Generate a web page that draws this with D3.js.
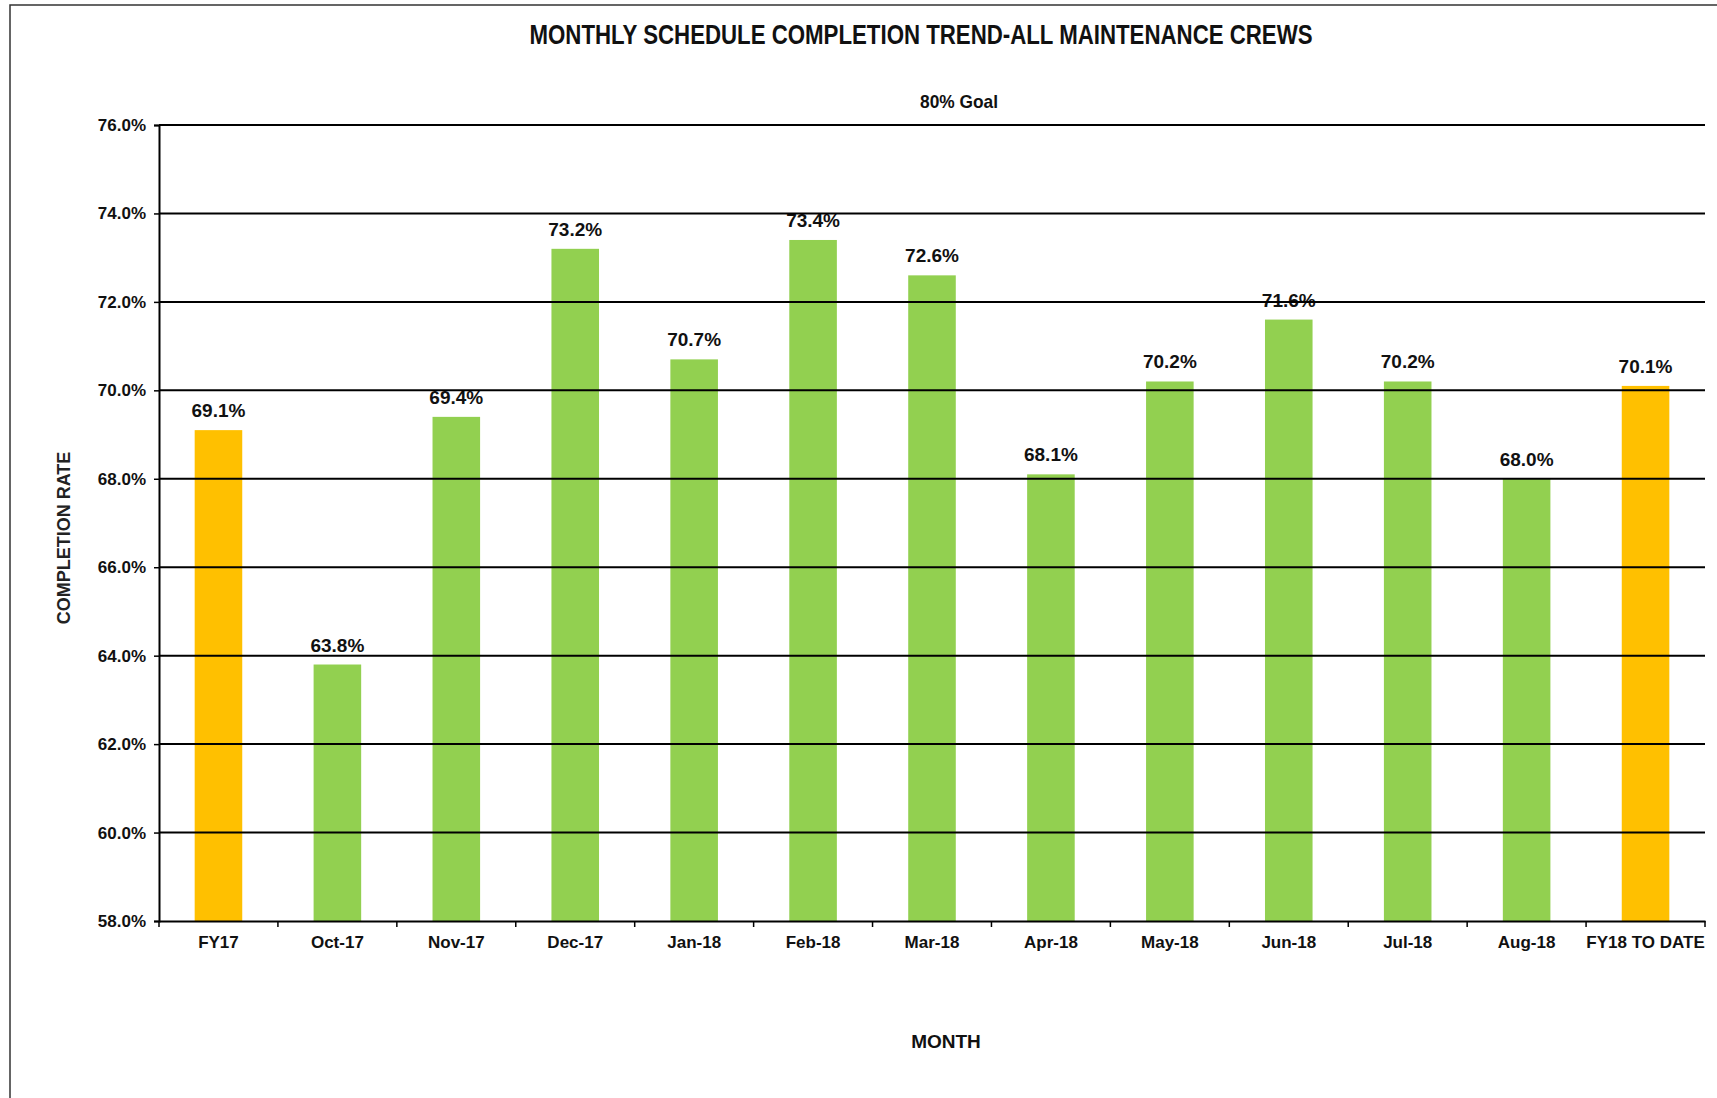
<!DOCTYPE html>
<html>
<head>
<meta charset="utf-8">
<script src="https://cdn.jsdelivr.net/npm/d3@7"></script>
<style>
  html, body { margin: 0; padding: 0; background: #fff; }
  svg { display: block; }
  .tick text { font-family: "Liberation Sans", Arial, sans-serif; font-weight: bold; font-size: 17px; fill: #111; }
</style>
</head>
<body>
<div id="chart"></div>
<script>
// chart values
const categories = ["FY17", "Oct-17", "Nov-17", "Dec-17", "Jan-18", "Feb-18", "Mar-18",
  "Apr-18", "May-18", "Jun-18", "Jul-18", "Aug-18", "FY18 TO DATE"];
const completion = [69.1, 63.8, 69.4, 73.2, 70.7, 73.4, 72.6, 68.1, 70.2, 71.6, 70.2, 68.0, 70.1];
const yearTotals = ["FY17", "FY18 TO DATE"];
const yTicks = [58, 60, 62, 64, 66, 68, 70, 72, 74, 76];

const width = 1717;
const height = 1098;
const margin = { top: 125, right: 12, bottom: 177, left: 159 };

const svg = d3.select("#chart")
  .append("svg")
  .attr("width", width)
  .attr("height", height);

// chart area border (right and bottom edges run off the picture)
svg.append("rect")
  .attr("x", 10)
  .attr("y", 5)
  .attr("width", width + 20)
  .attr("height", height + 20)
  .attr("fill", "none")
  .attr("stroke", "#333")
  .attr("stroke-width", 1.5);

const x = d3.scaleBand()
  .domain(categories)
  .range([margin.left, width - margin.right])
  .paddingInner(0.6)
  .paddingOuter(0.3);

const y = d3.scaleLinear()
  .domain([58, 76])
  .range([height - margin.bottom, margin.top]);

const data = categories.map((c, i) => ({ cat: c, value: completion[i] }));

// bars
svg.selectAll("rect.bar")
  .data(data)
  .join("rect")
  .attr("class", "bar")
  .attr("x", d => x(d.cat))
  .attr("y", d => y(d.value))
  .attr("width", x.bandwidth())
  .attr("height", d => y(58) - y(d.value))
  .attr("fill", d => yearTotals.includes(d.cat) ? "#FFC000" : "#92D050");

// value labels
svg.selectAll("text.label")
  .data(data)
  .join("text")
  .attr("class", "label")
  .attr("x", d => x(d.cat) + x.bandwidth() / 2)
  .attr("y", d => y(d.value) - 13)
  .attr("text-anchor", "middle")
  .style("font-family", "'Liberation Sans', Arial, sans-serif")
  .style("font-weight", "bold")
  .style("font-size", "19px")
  .style("fill", "#111")
  .text(d => d.value.toFixed(1) + "%");

// gridlines on top of the labels, as in the original
svg.append("g")
  .selectAll("line")
  .data(yTicks.slice(1))
  .join("line")
  .attr("x1", margin.left)
  .attr("x2", width - margin.right)
  .attr("y1", d => y(d))
  .attr("y2", d => y(d))
  .attr("stroke", "#000")
  .attr("stroke-width", 2);

// y axis
const yAxis = svg.append("g")
  .attr("transform", `translate(${margin.left},0)`)
  .call(d3.axisLeft(y).tickValues(yTicks).tickFormat(d => d.toFixed(1) + "%").tickSize(5).tickPadding(8));
yAxis.select(".domain").attr("stroke", "#000").attr("stroke-width", 2);
yAxis.selectAll(".tick line").attr("stroke", "#000").attr("stroke-width", 1.5);

// x axis: labels centred in bands, ticks on band boundaries
const xAxis = svg.append("g")
  .attr("transform", `translate(0,${y(58)})`)
  .call(d3.axisBottom(x).tickSize(0).tickPadding(15).tickSizeOuter(0));
xAxis.select(".domain").attr("stroke", "#000").attr("stroke-width", 2);

xAxis.selectAll("line.boundary")
  .data(d3.range(categories.length + 1))
  .join("line")
  .attr("class", "boundary")
  .attr("x1", i => x.range()[0] + i * x.step())
  .attr("x2", i => x.range()[0] + i * x.step())
  .attr("y1", 0)
  .attr("y2", 6)
  .attr("stroke", "#000")
  .attr("stroke-width", 1.5);

// title
svg.append("text")
  .attr("x", 921)
  .attr("y", 44)
  .attr("text-anchor", "middle")
  .attr("textLength", 783)
  .attr("lengthAdjust", "spacingAndGlyphs")
  .style("font-family", "'Liberation Sans Narrow', 'Arial Narrow', 'Liberation Sans', sans-serif")
  .style("font-weight", "bold")
  .style("font-size", "27px")
  .style("fill", "#111")
  .text("MONTHLY SCHEDULE COMPLETION TREND-ALL MAINTENANCE CREWS");

// goal note
svg.append("text")
  .attr("x", 959)
  .attr("y", 108)
  .attr("text-anchor", "middle")
  .attr("textLength", 78)
  .attr("lengthAdjust", "spacingAndGlyphs")
  .style("font-family", "'Liberation Sans Narrow', 'Arial Narrow', 'Liberation Sans', sans-serif")
  .style("font-weight", "bold")
  .style("font-size", "19px")
  .style("fill", "#111")
  .text("80% Goal");

// axis titles
svg.append("text")
  .attr("transform", `translate(70,${(y(58) + y(76)) / 2 + 15}) rotate(-90)`)
  .attr("text-anchor", "middle")
  .style("font-family", "'Liberation Sans', Arial, sans-serif")
  .style("font-weight", "bold")
  .style("font-size", "18px")
  .style("fill", "#222")
  .text("COMPLETION RATE");

svg.append("text")
  .attr("x", 946)
  .attr("y", 1048)
  .attr("text-anchor", "middle")
  .style("font-family", "'Liberation Sans', Arial, sans-serif")
  .style("font-weight", "bold")
  .style("font-size", "19px")
  .style("fill", "#111")
  .text("MONTH");
</script>
</body>
</html>
